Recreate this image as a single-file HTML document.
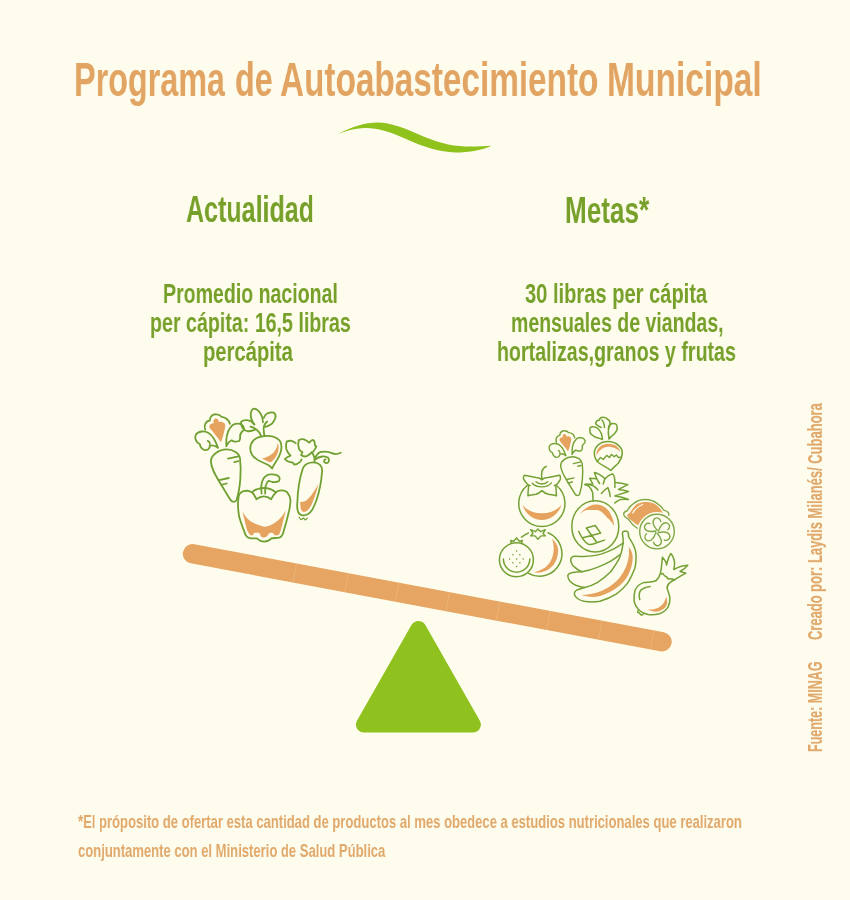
<!DOCTYPE html>
<html><head><meta charset="utf-8">
<style>
html,body{margin:0;padding:0;}
body{width:850px;height:900px;background:#FEFCEC;position:relative;overflow:hidden;font-family:"Liberation Sans",sans-serif;font-weight:bold;}
.t{position:absolute;white-space:nowrap;line-height:1;transform-origin:0 0;will-change:transform;}
.g{color:#76A02A;}
.o{color:#E2A463;}
.f{color:#E0A86B;}
.cr{-webkit-text-stroke:0.2px #E0A86B;}
svg{position:absolute;left:0;top:0;}
</style></head><body>
<div class="t o" style="left:74.2px;top:55px;font-size:49px;transform:scaleX(0.660)">Programa</div>
<div class="t o" style="left:234.9px;top:55px;font-size:49px;transform:scaleX(0.659)">de</div>
<div class="t o" style="left:280.3px;top:55px;font-size:49px;transform:scaleX(0.680)">Autoabastecimiento</div>
<div class="t o" style="left:607.3px;top:55px;font-size:49px;transform:scaleX(0.685)">Municipal</div>
<div class="t g" id="act" style="left:186px;top:192px;font-size:36.5px;transform:scaleX(0.686)">Actualidad</div>
<div class="t g" id="metas" style="left:564.5px;top:193px;font-size:36.5px;transform:scaleX(0.715)">Metas*</div>
<div class="t g" id="L1" style="left:163px;top:280px;font-size:28px;transform:scaleX(0.698)">Promedio nacional</div>
<div class="t g" id="L2" style="left:150px;top:309px;font-size:28px;transform:scaleX(0.701)">per cápita: 16,5 libras</div>
<div class="t g" id="L3" style="left:203px;top:338px;font-size:28px;transform:scaleX(0.721)">percápita</div>
<div class="t g" id="R1" style="left:525px;top:280px;font-size:28px;transform:scaleX(0.718)">30 libras per cápita</div>
<div class="t g" id="R2" style="left:510.5px;top:309px;font-size:28px;transform:scaleX(0.697)">mensuales de viandas,</div>
<div class="t g" id="R3" style="left:497px;top:338px;font-size:28px;transform:scaleX(0.701)">hortalizas,granos y frutas</div>
<div class="t f" id="F1" style="left:78px;top:813px;font-size:18.5px;transform:scaleX(0.705)">*El próposito de ofertar esta cantidad de productos al mes obedece a estudios nutricionales que realizaron</div>
<div class="t f" id="F2" style="left:78px;top:842px;font-size:18.5px;transform:scaleX(0.705)">conjuntamente con el Ministerio de Salud Pública</div>
<div class="t f cr" id="C1" style="left:806px;top:640px;font-size:19.5px;transform:rotate(-90deg) scaleX(0.664)">Creado por: Laydis Milanés/ Cubahora</div>
<div class="t f cr" id="C2" style="left:806px;top:752px;font-size:19.5px;transform:rotate(-90deg) scaleX(0.643)">Fuente: MINAG</div>
<svg width="850" height="900" viewBox="0 0 850 900">
<path d="M337.9 134.1 C350 127 365 122.4 378.1 122.4 C390 122.4 405 128 420.6 135.2 C435 141.5 450 146 465.3 146.4 C475 146.6 485 146 491.7 145.7 C482 150 470 152.5 455 152.5 C440 152 425 147.5 404.9 138.5 C390 131.5 375 127.5 364.7 128 C355 128.5 345 131 337.9 134.1 Z" fill="#90C21D"/>
<line x1="192.5" y1="553.8" x2="662" y2="641.8" stroke="#E6A562" stroke-width="19.4" stroke-linecap="round"/>
<path d="M296.5 563.5 L292.9 582.5 M348.3 573.2 L344.7 592.2 M398.9 582.6 L395.3 601.6 M449.4 592.1 L445.8 611.1 M499.8 601.6 L496.2 620.6 M550.2 611.0 L546.6 630.0 M602.1 620.7 L598.5 639.7 M654.0 630.5 L650.4 649.5" stroke="#EFB97F" stroke-width="0.7"/>
<path d="M418.4 628.9 L472.9 724.6 L363.9 724.6 Z" fill="#8FC21E" stroke="#8FC21E" stroke-width="16" stroke-linejoin="round"/>
<g id="leftgrp" fill="none" stroke="#70A032" stroke-width="1.8" stroke-linecap="round" stroke-linejoin="round">
<g id="carrot">
<!-- carrot leaves -->
<path d="M213.7 423.2 C213 421 214 418.5 216 418.5 C218 418.5 219 420.5 218.7 422.2 C220.5 421.5 223 421.8 224.6 423.5 C225.5 425 225.3 427 224.9 428 C224 433 222.5 438 221 442.3 C219.5 440.5 218.5 438.5 217 437 C215 434.5 213 432 211.5 430 C209.5 428.5 209 427 209.5 425.5 C210 424 212 423 213.7 423.2 Z" fill="#E6A35F" stroke="none"/>
<path d="M205.2 429.7 C203.5 425 206 421 209.8 420.5 C209.5 416.5 213 414 216.4 414.3 C219 414.3 220.5 415.5 221.5 416.8 C225.5 417 229 420 229.9 423.8"/>
<path d="M218 447.9 C216 442 212 435 208.5 433 C205 431 199 430.5 196 434.4 C194 437.5 196 442.5 199.9 444.2 C200 447 203 450.5 205.8 450.2 C208.5 450 210 447.5 209.8 445.5 C212.5 445 216 446 218 447.9 M207.8 440.9 C209 441.5 209.8 442.5 209.8 443.6"/>
<path d="M226.3 446.2 C226 440 227 432 230.2 427.8 C232 425 234 424 235.5 423.8 C238 423.5 240.5 423.5 241.4 424.5 C244 426 244.5 429 243.4 430.4 C241.5 432 240 433.5 240.1 435.7 C240.5 438.5 239.5 441 238.8 441 C236.5 442 235 441.5 234.2 441.6 C232.5 441 231.5 440.3 231.5 440.3 C229 441.5 227.5 443.5 226.3 446.2"/>
<!-- carrot body -->
<path d="M210.9 461.2 C211 455 219 449.4 226.7 449.4 C233 449.4 239.5 453 240 458.5 C241.5 470 240.5 488 236.5 500 C235.5 502.5 232 502.5 230.2 499.5 L219.8 482.5 C215 474.5 211 468 210.9 461.2 Z"/>
<path d="M228.1 458.7 L238.4 456.3 M234.3 462.2 L238.4 461.2 M219.2 480.1 L228.8 478 M221.2 484.9 L226.7 483.5"/>
</g>
<!-- radish -->
<path d="M277.7 442.9 C277.3 448 275 452 270.5 455 C267.5 457 264.5 458 262.1 458.4 C265 460 268 461.5 270.7 462.3 C273 460.5 275 458.5 276 456.5 C278.5 452 279.5 447 277.7 442.9 Z" fill="#E6A35F" stroke="none"/>
<path d="M261.3 436.7 C268 435 277 436 280.5 442 C283 448 280 455 277 460 C275 463 273 466 272.2 468.5 C270 465.5 268 464.5 264 463 C256 460 250.5 456 250.3 449 C250 442 255 437.5 261.3 436.7 Z"/>
<path d="M261.3 436.3 C260 433 258.5 431 256.7 429.7 C254.5 428 252.5 427 250.4 426.6 M264.4 435.9 C263.8 432 263.5 429.5 263.7 427.3 C264.5 424.5 265.5 422.5 267.2 421.5"/>
<path d="M254.3 424.2 C251.5 421 250.5 417 250.8 413.5 C251.2 410.5 252.5 408.8 254.3 408.7 C256.5 409 259 411 260.8 414 C262.3 416.5 263 419.5 262.9 422.3"/>
<path d="M263.7 418 C264.5 416 266 414 267.5 413.3 C270 412.3 272 412 273.8 412.6 C275.5 414 276 416 275.3 418 C274.5 420.5 273.5 422 272.2 423.4 C270 425 267.5 426.3 265.2 426.9"/>
<path d="M254.3 424.6 C252.5 422 250.5 420.5 248.1 420.3 C245 420 242.5 420.5 241.1 421.9 C241 424.5 241.5 426.5 242.7 428.1 C244 430 245.5 431 247.3 431.2 C250 431.5 252.5 430.5 255.1 429.7"/>
<!-- pepper -->
<path d="M242.4 511.2 C246 518 250 523 264 526.8 C270 526 280 522 285.6 510.4 C285 514 284 518 283.2 520.8 C282 526 281 531 279.2 534.4 C277.5 535.5 275.5 535.5 274.4 535.2 C273.5 533.5 273 532.8 272 532.8 C270.5 532.8 269 533 268.8 533.6 C268 535.5 266.5 537.5 264 537.6 C262 537.5 261 536.5 260.8 536 C260 534 259.5 532.8 258.4 532.8 L254.4 532.8 C253.5 533.5 253.2 535 252.8 535.2 L250.4 535.2 C248.5 533 247 530.5 246.4 528 C245 522 243.5 516 242.4 511.2 Z" fill="#E6A35F" stroke="none"/>
<path d="M238.4 498.4 C238.5 494.5 241 492 243.5 491.2 C246 490.5 249 490.5 252 492.4 C254 494 255.5 497 256.4 499.2 C259 497.2 261.5 496.4 264 496.4 C266.5 496.4 269 497.5 271.2 499.2 C272.5 496.5 274 494.5 275.2 493.2 C277 491 279.5 490.4 281.6 490.4 C284.5 490.4 287 491.5 288 493.6 C290 496 290.8 499 290.4 502 C289.8 508 289 512 288.8 512 C287 520 285 527 283.2 532.8 C282.3 535.5 281 537.5 279.2 537.6 C276.5 538 273.5 538 271.2 538.4 C270 540 268.5 541.5 264 541.6 C261 541.5 259 540.5 256.8 538.4 C254.5 538.2 252.5 538.4 250.4 538.4 C248 538 246.5 537 245.6 535.2 C243 528 240.5 522 239.2 516.8 C238.3 512 238 508 238 504 C238 501.5 238.2 500 238.4 498.4 Z"/>
<path d="M252 492.4 C254 490.2 256.5 489 258.4 488.8 C260.5 488.2 262 488 264 488 C266.5 488 268.5 488.5 270.4 489.2 C272.5 490 274 491 275.6 492"/>
<path d="M261.6 493.6 C261.4 491 261.2 488.5 261.2 486.4 C261.5 483 262.3 480.5 263.6 478.4 C265.5 475.8 268 474.5 270.4 474.4 C273.5 474.2 276 474.7 277.6 475.6 C279 476.5 279.8 478 279.6 479.2 C279.3 480.6 278.5 481.4 277.6 481.6 C276 482 274 482.2 272.8 482 C271 481.8 269.8 481 268.8 480.8 C267.5 481.5 266.8 482.8 266.4 484 C265.8 485.5 265.3 487 265.2 488 C265.1 490 265.2 492 265.2 493.6"/>
<!-- cucumber -->
<path d="M318.3 483.8 C317.5 489 315 497 311.6 504.8 C309.5 508.5 307.5 511 305.9 511.5 C304.5 512 303 512 302.5 511.5 C301 510 300.5 508.5 300.6 506.7 C300.3 505 300.1 503.5 300.1 501.9 C302.5 502 305 501.5 306.8 500 C309 498 311 496 312.6 493.3 C315 490 317 487 318.3 483.8 Z" fill="#E6A35F" stroke="none"/>
<path d="M313.5 462.3 C319 462.3 322.5 466 322.1 471 C321.5 480 320 490 316.5 500 C314 507 311 515 303.5 515.3 C298 515.5 297 510 297.2 505 C297.5 493 299.5 478 303 468 C304.5 464.5 309 462.3 313.5 462.3 Z"/>
<path d="M299.2 517.2 C299.8 518.3 300.5 519.4 301.1 519.6 C302 519.5 302.8 518.3 303.5 518.1 C304.2 518.5 304.8 519.8 305.4 520 C306.2 519.8 306.8 518.6 307.3 518.1" stroke-width="1.2"/>
<path d="M314.5 462.3 C314.5 460 314.5 458.5 314.5 458 C313.8 455.5 312.8 453.5 311.6 452.2"/>
<path d="M315 458 C316.5 455 318 453 320.2 452.2 C322.5 451.3 325 451.5 327.8 451.8 C330.5 452.3 333 454 335.5 454.1 C337.5 454.2 339 453.5 340.7 452.7"/>
<path d="M315.4 459.4 C317.5 457.5 319.5 456.8 322.1 456.5 C324 456.3 326 456.8 327.8 457.5 C329 458.5 329.2 460 328.8 461.3 C328.2 462.6 327.3 463.3 326.4 463.2 C325.2 463.1 324.2 462.3 324 461.3 C323.9 460.3 324.6 459.6 325.5 459.4"/>
<path d="M311.6 452.7 C309.5 454.5 307.5 456 305.9 456.5 C304 456.5 302 456 301.1 455.1 C301.5 454 302 453 302.5 452.2 C301 451.5 299.8 450.5 299.2 449.4 C298 446.5 298 443 298.7 440.3 C300.5 439 302.5 439 304 439.3 C306 440 308 441.5 309.2 442.7 C310.3 441.3 311.5 440 312.6 439.8 C313.8 440 314.3 441 314.5 441.7 C314.7 443 314.8 444.5 315 445.6 C315.5 446 316 446.2 316.4 446.5 C315.5 448.5 314.5 450 313.5 451.3 C312.8 452 312.2 452.4 311.6 452.7 Z"/>
<path d="M301.6 459.4 C301 460.5 300.6 461.2 300.1 461.8 C298.5 463.3 296.5 464.3 294.4 464.7 C293.8 464 293.4 463.3 293 462.7 C291 462.5 289.2 462 287.7 461.3 C286.5 460.5 285.5 459.8 284.9 458.9 C286.5 457.5 288.5 456.3 290.6 455.6 C288.5 453.5 287 451.3 286.3 448.9 C285.8 446.3 286 443.5 286.8 441.3 C288.5 440.8 290 440.6 291.6 440.8 C293.2 441.4 294.8 442.2 295.8 443.2"/>
</g>
<g id="rightgrp" fill="none" stroke="#74A136" stroke-width="1.5" stroke-linecap="round" stroke-linejoin="round">
<!-- small carrot (reuse) -->
<use href="#carrot" transform="matrix(0.74 0 0 0.74 404.6 124.2)" stroke-width="1.95"/>
<!-- radish right -->
<path d="M596.3 456.1 C596.5 451 598 448 599.8 447.1 C602 444.7 605 443.7 608 443.7 C611 443.7 614 444.5 616.3 445.7 C618.5 447.5 619.8 449.5 620.1 452 C619 450.5 617.5 449.3 615.6 448.5 C613 447.3 610.5 446.8 608 446.8 C605.5 446.8 603 448 600.5 449.9 C598.5 451.5 597 454 596.3 456.1 Z" fill="#E6A35F" stroke="none"/>
<path d="M608 441.6 C616 441.6 622.5 447 622.3 453.5 C622 458 620 461 618 463.5 C615.5 466 612.5 468 610.8 470.5 C607.5 467.5 603 466 599 463 C596 460.5 594.3 457 594.3 453.3 C594.3 446.5 600.5 441.6 608 441.6 Z"/>
<path d="M597 461.6 L600.5 457.5 L603.2 459.5 L606.7 455.4 L609.4 457.5 L611.5 454.4 L614.2 456.8 L616.3 455 L618.4 457.5 L621.5 457.1" stroke-width="1.4"/>
<path d="M602.5 439.5 C600 438.5 598 438 596.3 437.5 C594.5 437 593.5 436.3 592.9 435.4 C591 434.5 590 433.5 590.1 432 C589.8 430.5 589.5 429 590.1 427.8 C591 426.8 592.5 426.5 593.6 426.8 C595 427 596.5 427.5 597.7 428.5 C599.5 430 600.5 431.5 601.2 433.3 C602 435.5 602.3 437.5 602.5 439.5"/>
<path d="M601.2 427.5 C598 426 596 425 595.6 423.5 C596 421.5 597.5 420 599.1 420.3 C599.5 418.5 601 417.3 602.5 417.2 C604.5 417 606 417.8 606.7 418.5 C608.5 419.5 610 421 610.1 422.5 C610.3 425 609.5 427 608.5 428.5 M604.5 427.5 C604.3 424.5 603.5 421.5 602 420"/>
<path d="M609 439 C608.3 435 608 431 608.7 426.5 C609.5 424.5 611 423.7 612.9 423.5 C615 423.4 616.5 424.2 616.8 425.5 C617.3 427 617.3 428.5 617 429.9 C616 432 614.8 433.5 613.5 434.7 C611.8 436 610.2 437.3 609 439"/>
<!-- persimmon -->
<path d="M522.4 504.5 C525 513 532 519.9 541.9 519.9 C551.5 519.9 559 513 561.7 504.5 C557 510.5 550 513.3 541.9 513.3 C533.5 513.3 526.5 510.5 522.4 504.5 Z" fill="#E6A35F" stroke="none"/>
<path d="M527.2 485.5 A23.1 23.1 0 1 0 556.5 485.5"/>
<path d="M541.9 479.6 C540 478 538 477.4 536 477.4 C532 477.2 528 476 524.3 475.2 C523.5 476.5 523.2 477.5 523.5 478.9 C524.5 481 526 483 527.9 484.7 C528.8 485.2 529.5 485.5 530.1 485.5"/>
<path d="M541.9 479.6 C543.8 478 545.8 477.4 547.7 477.4 C551.5 477.2 555.5 476 559.8 475.2 C560.5 476.5 560.8 478 560.2 479.6 C559.2 481.5 558 483.2 556.5 484.7 C555.5 485.2 554.8 485.5 554.3 485.5"/>
<path d="M528.7 485.5 C528.3 489 528 492.5 527.9 495.7 C530.5 495 533.5 494.8 536 494.3 C538.5 493.5 540.5 492 541.9 490.6 C543.3 492 545.5 493.5 548.5 494.3 C551 494.8 554 495 556.5 495.7 C556.3 492.5 556 489 555.8 485.5"/>
<path d="M532.3 483.3 C534.5 485.8 538 486.9 541.9 486.9 C545.8 486.9 549.3 485.5 551.4 482.9 M536 481.8 C537.5 483.3 539.5 484 541.9 484 C544.3 484 546.5 483.2 547.7 481.8" stroke-width="1.4"/>
<path d="M541.9 478.9 C541.5 476 541.5 473.5 541.9 471.5 C542.5 469 544 467.5 546.3 466.4"/>
<!-- pomegranate -->
<circle cx="516.4" cy="559.8" r="17"/>
<path d="M503.4 559 A13.2 13.2 0 0 0 529.8 559"/>
<path d="M511.2 543.3 L510.8 540.4 L513.7 541.2 L516.6 537.9 L519.5 541.2 L522.4 540.4 L521.5 543.3"/>
<g fill="#6C9A2E" stroke="none">
<circle cx="516.6" cy="551.1" r="0.75"/><circle cx="512.9" cy="554.8" r="0.75"/><circle cx="519.9" cy="554.8" r="0.75"/>
<circle cx="509.6" cy="559" r="0.75"/><circle cx="516.6" cy="559" r="0.75"/><circle cx="523.2" cy="559" r="0.75"/>
<circle cx="512.9" cy="562.7" r="0.75"/><circle cx="519.9" cy="562.7" r="0.75"/><circle cx="516.6" cy="566.4" r="0.75"/>
</g>
<!-- orange -->
<path d="M552 538.8 C556.5 542.5 558.3 547 558.2 551 C558 556 556.5 560.5 553.7 564.7 C550.5 568.5 546.5 571 542.1 572.1 C539.5 572.7 536.5 572.8 533.9 572.5 C537.5 571.5 541.5 569.8 545.2 567.5 C548.2 565 550.5 562 551.8 558.5 C553.2 555 553.8 551 553.7 547.4 C553.5 544.5 553 541.5 552 538.8 Z" fill="#E6A35F" stroke="none"/>
<path d="M548 532.75 A22.6 22.6 0 1 1 528 573.17"/>
<path d="M521.5 537.1 C524 535.3 526 534 528.5 533"/>
<path d="M530.6 529.7 L535.3 531.7 L538 529 L540.7 531.7 L545.4 529.7 L543 533.6 L545.4 535.9 L541 535.9 L538 539.2 L535 535.9 L530.6 535.9 L533 533.6 Z" stroke-width="1.4"/>
<!-- pineapple -->
<path d="M579.2 514.8 C584 508.5 590 504.5 596 504.5 C600.5 504.5 604.5 506.5 607.2 509.2 C611 513 613.5 519 614.2 526 C612 522.5 610 520 608.1 518.5 C605 515.5 601 510.1 596.9 510.1 C593.5 510.1 590 510.1 586.7 510.1 C584 511 581.5 512.5 579.2 514.8 Z" fill="#E6A35F" stroke="none"/>
<ellipse cx="595.3" cy="526.4" rx="23.5" ry="25.6"/>
<path d="M578.7 531.2 C580 534 582 538 583.7 539.9 C585 542 586.5 543.5 588.5 544.2 C591 545 594 544 597.3 542.5 L604.5 540.1 M582.9 537.8 L600.7 533.1 M586.3 528 L595.2 525.5 L600.7 533.1 M586.3 528 L596.9 542.5"/>
<path d="M593.2 500.8 C592.8 497 592.8 494.5 592.6 492.4 C591.5 489.5 590.5 488 589.1 486.5 C587.8 485.5 586.5 484.8 584.9 484.4 C589 484.2 591.5 484.8 593.8 486.2 C595.5 487.3 596.8 488.5 597.9 490"/>
<path d="M584.9 484.4 L592.9 484.1 L589.6 478.2 L596.7 478.8 L594.4 472.6 C596.5 473 598 473.7 599.6 474.7 C601.5 475.8 603.5 477.2 604.9 478.8 C607 476.5 610 474.5 612.6 473.8 C613.8 475 614.4 476.5 614.6 478.2 C615 481.5 615 484.5 614.9 487.6"/>
<path d="M596.7 478.8 L599.6 483.5 M604.9 478.8 L603.2 484.1"/>
<path d="M615.5 482.4 C619.5 482.5 624 483.5 627.9 484.7 L618.5 489.4 C622 489.8 625.5 490.5 628.5 491.5 L614.9 495.9 C619.5 496.5 624.5 497.8 628.5 499.4 C625.5 499.3 623 499.2 620.8 499.4 C618.5 500.3 616.5 501.5 614.9 502.9"/>
<path d="M601.4 493.5 C603.5 491 605.5 489 607.9 487.6 C609.2 490.5 610 493.5 610.2 496.5"/>
<!-- lemon -->
<path d="M627.1 515.1 C628 514 629 513.3 629.9 512.9 C631.5 510 633.5 507 636.2 504.5 C639.5 502.5 643 502 646.8 502 C650.5 502 653.5 503.2 656.7 505.2 C659.5 507.5 661.5 510.3 663 513.3 C660 513 655 513.5 651 514.7 C647.5 515.5 645 516.8 643.3 518.6 C641 520.5 639.5 523 638.7 525.6 C636.5 524.5 634.5 523 632.7 521.4 C631 520 629.5 519 628.5 517.9 C627.8 517 627.2 516 627.1 515.1 Z" fill="#E6A35F" stroke="none"/>
<path d="M632.7 512.9 C635 509 638.5 506 642.6 504.5" stroke="#FEFCEC" stroke-width="1.2"/>
<path stroke="#80A84A" stroke-width="1.4" d="M637.6 528.5 C634 526 630.5 522.5 628.5 519.3 C626.5 518 624.7 517 624.2 515.8 C623.7 514.5 623.6 513.5 623.9 513 C624.7 511.8 626 511 627.1 510.8 C629 507.5 631 505 634.1 503.1 C637.5 500.5 641.5 499.5 645.4 499.5 C649.5 499.5 653.5 500.8 656.7 503.1 C659.5 505 662 507.5 663.8 510.1 C665.5 510.5 667 511.3 668 512.2 C668.8 513.2 669 514.3 668.7 515.4"/>
<!-- lime -->
<circle cx="657" cy="531.6" r="17.3" fill="#FEFCEC" stroke="#FEFCEC" stroke-width="4.5"/>
<g stroke="#80A84A" stroke-width="1.4">
<circle cx="657" cy="531.6" r="17.3"/>
<g transform="translate(657.2 531.8)">
<path id="petal" d="M0 -1.5 C-3 -5 -5.5 -10 -3 -12.8 C-1 -14.8 3 -14 3.6 -10.3"/>
<use href="#petal" transform="rotate(60)"/>
<use href="#petal" transform="rotate(120)"/>
<use href="#petal" transform="rotate(180)"/>
<use href="#petal" transform="rotate(240)"/>
<use href="#petal" transform="rotate(300)"/>
</g></g>
<!-- bananas -->
<path d="M628.6 546.8 C631.8 550.5 632.8 554.5 632.7 558 C632.5 566 629.5 574 625 580 C619 587.5 610 593 600 596 C594 597.5 587 597 581.2 595.1 C587 594.8 594 593.8 600 591.5 C608 588.5 615.5 583 620.5 576.5 C625 570.5 628 563 628.8 556 C629.2 552.5 629.2 549.5 628.6 546.8 Z" fill="#E6A35F" stroke="none"/>
<path d="M623.2 531.6 C624.5 531 626.5 531 627.7 531.6 C628.5 533 628.6 535 628.6 536.9 C632 542 635.5 547.5 635.8 553 C636.5 558 636 563 634.9 568.3 C633 573 631 577.5 628.6 581.7 C625 587 620.5 591 616.1 594.2 C611 597.5 606 599.5 600 601.3 C594.5 602.3 589 602.2 583.9 601.3 C580.5 600.5 577.5 599 575.8 596.9 C574.5 595.5 574 594 574.5 592.4 C575.5 591 576.5 590.3 577.6 589.7 C580 588.8 582.5 588 584.8 587.5 C589 586.5 593 585 597.3 582.6 C602 579.5 606.5 576 610.7 571.8 C614 567 617.5 562.5 619.7 557.5 C621.5 553 622.5 548 623.2 543.2 C623.3 540 623 536.5 622.4 533.4 C622.5 532.5 622.8 532 623.2 531.6 Z"/>
<path d="M584.8 587.5 C581 587 578 586 575.8 585.2 C573 584 571 582.5 569.6 580.8 C568.3 579 567.7 577 567.8 575.4 C568.5 574 570 573 571.4 572.7 C575 572 578.5 571.8 582.1 571.8 C587 571 592 569.5 597.3 567.4 C602 565.5 606.5 563.5 610.7 561.1 C614 559 617 557 619.7 554.8"/>
<path d="M582.1 571.8 C579.5 571 577 569.5 574.9 567.4 C573 566 571.8 564.5 571.4 562.9 C570.8 561.5 570.6 560 570.9 558.4 C571.8 557 573 556.3 574.1 556.2 C577 556 580.5 556.5 583.9 556.6 C590 556.2 596 555.5 601.8 553.9 C606 552.5 610.5 550.5 614.3 548.6 C617.5 547 620.5 545 623.2 543.2"/>
<!-- onion -->
<path d="M647.3 609 C650 610.8 653 611.8 655.8 611.8 C659 611.5 661.5 610.5 663.3 609 C665.5 607.5 666.8 605.5 667.1 603.4 C667.5 601 667 598.5 666.1 596.8 C665.5 599.5 664.5 601.5 663.3 603.4 C661.5 605.5 659.5 607 657.6 608.1 C655.5 609 653.5 609.5 652 609.5 C650 609.6 648.5 609.4 647.3 609 Z" fill="#E6A35F" stroke="none"/>
<path d="M660.5 573.2 C659.5 576.5 658 579 655.8 580.8 C652 582.5 647.5 582 643.5 582.6 C639.5 584 636.5 586.5 635.1 590.2 C634 593.5 633.8 597.5 634.1 601.5 C634.8 604.5 636.5 607.5 638.8 610 C641.5 612.5 645 614 648.2 614.6 C652 615 656 614.7 659.5 613.7 C663 612.5 666 610 668 607.1 C669.5 604 670.2 601 669.9 597.7 C669.5 594.5 668 591.5 667.1 588.3 C667 586 668 584 669.9 582.6 C671.5 581.3 673 580.5 674.6 579.8"/>
<path d="M650.1 586.4 C646.5 587 643 588 640.7 590.2 C639 592.5 639 596.5 639.8 599.6"/>
<path d="M638.8 610 C637.5 611 637.5 612 638 612.5 C639 612.5 640 613.5 640.5 614.5 C641.5 615 642.5 615 643 614.5"/>
<path d="M660.5 573.2 C661.5 568 662 562 662.4 557.2 C665 560 666.5 562.5 666.5 565 C667.5 561 669 556 670.8 553.5 C673 556 674.5 560 674.6 563.8 C674.5 566 674 568 673.8 569.5 C678 567 683 565.5 687.8 565.2 C686 568 683 570 680 571.5 C682 572 684 572.5 685.9 573.2 C681.5 575.5 677.5 577.5 674.6 579.8 C672 578.5 670 578.5 668 579 C667.5 577.5 666.5 576.5 665 576 C664 575.5 663.5 574.5 663 573.5 C662 574 661 574 660.5 573.2"/>
</g>
</svg>
</body></html>
